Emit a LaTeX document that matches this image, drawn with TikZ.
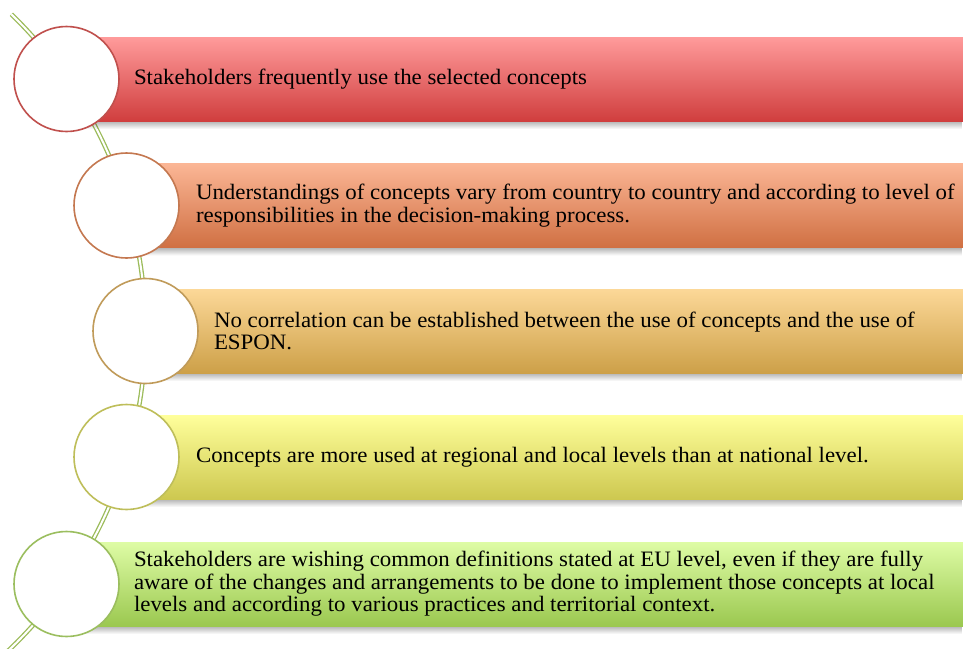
\documentclass[tikz,border=0pt]{standalone}
\usepackage{fontspec}
\setmainfont[FakeStretch=1.04]{Liberation Serif}
\usetikzlibrary{positioning,fadings}

\definecolor{spine}{RGB}{155,187,89}
\definecolor{redTop}{RGB}{255,155,155}
\definecolor{redBot}{RGB}{208,62,62}
\definecolor{redLine}{RGB}{192,80,77}
\definecolor{orangeTop}{RGB}{251,182,150}
\definecolor{orangeBot}{RGB}{208,112,66}
\definecolor{orangeLine}{RGB}{196,120,80}
\definecolor{goldTop}{RGB}{252,216,152}
\definecolor{goldBot}{RGB}{205,160,72}
\definecolor{goldLine}{RGB}{192,155,90}
\definecolor{yellowTop}{RGB}{255,255,155}
\definecolor{yellowBot}{RGB}{205,200,80}
\definecolor{yellowLine}{RGB}{190,190,90}
\definecolor{greenTop}{RGB}{222,252,165}
\definecolor{greenBot}{RGB}{155,200,80}
\definecolor{greenLine}{RGB}{155,190,95}

\begin{document}
\begin{tikzpicture}[x=1pt, y=-1pt,
  every node/.style={font=\fontsize{22}{22.5}\selectfont},
  bar/.style={minimum height=84pt, minimum width=920pt, anchor=west, inner sep=0pt},
  disc/.style={circle, fill=white, line width=1.6pt, minimum size=105pt, inner sep=0pt},
  label/.style={align=left, inner sep=0pt},
  barshadow/.style={fill=black, opacity=0.3, path fading=south}]

\useasboundingbox (0,0) rectangle (963,648);

% Spine behind the circles
\draw[draw=spine, double=white, line width=1.3pt, double distance=2pt]
  (-295.5,331) ++(-45.9:441) arc[start angle=-45.9, end angle=48, radius=441];

% Bar 1
\fill[barshadow] (66.5,121) rectangle (963,129);
\node[bar, top color=redTop, bottom color=redBot] (b1) at (66.5,79) {};
\node[disc, draw=redLine] (c1) at (66.5,79) {};
\node[label, right=14pt of c1] (t1) {Stakeholders frequently use the selected concepts};

% Bar 2
\fill[barshadow] (126.5,247.5) rectangle (963,255.5);
\node[bar, top color=orangeTop, bottom color=orangeBot] (b2) at (126.5,205.5) {};
\node[disc, draw=orangeLine] (c2) at (126.5,205.5) {};
\node[label, right=16pt of c2] (t2) {Understandings of concepts vary from country to country and according to level of\\responsibilities in the decision-making process.};

% Bar 3
\fill[barshadow] (145.5,373) rectangle (963,381);
\node[bar, top color=goldTop, bottom color=goldBot] (b3) at (145.5,331) {};
\node[disc, draw=goldLine] (c3) at (145.5,331) {};
\node[label, right=15pt of c3] (t3) {No correlation can be established between the use of concepts and the use of\\ESPON.};

% Bar 4
\fill[barshadow] (126.5,499) rectangle (963,507);
\node[bar, top color=yellowTop, bottom color=yellowBot] (b4) at (126.5,457) {};
\node[disc, draw=yellowLine] (c4) at (126.5,457) {};
\node[label, right=16pt of c4] (t4) {Concepts are more used at regional and local levels than at national level.};

% Bar 5
\fill[barshadow] (66.5,626) rectangle (963,634);
\node[bar, top color=greenTop, bottom color=greenBot] (b5) at (66.5,584) {};
\node[disc, draw=greenLine] (c5) at (66.5,584) {};
\node[label, right=14pt of c5] (t5) {Stakeholders are wishing common definitions stated at EU level, even if they are fully\\aware of the changes and arrangements to be done to implement those concepts at local\\levels and according to various practices and territorial context.};

\end{tikzpicture}
\end{document}
